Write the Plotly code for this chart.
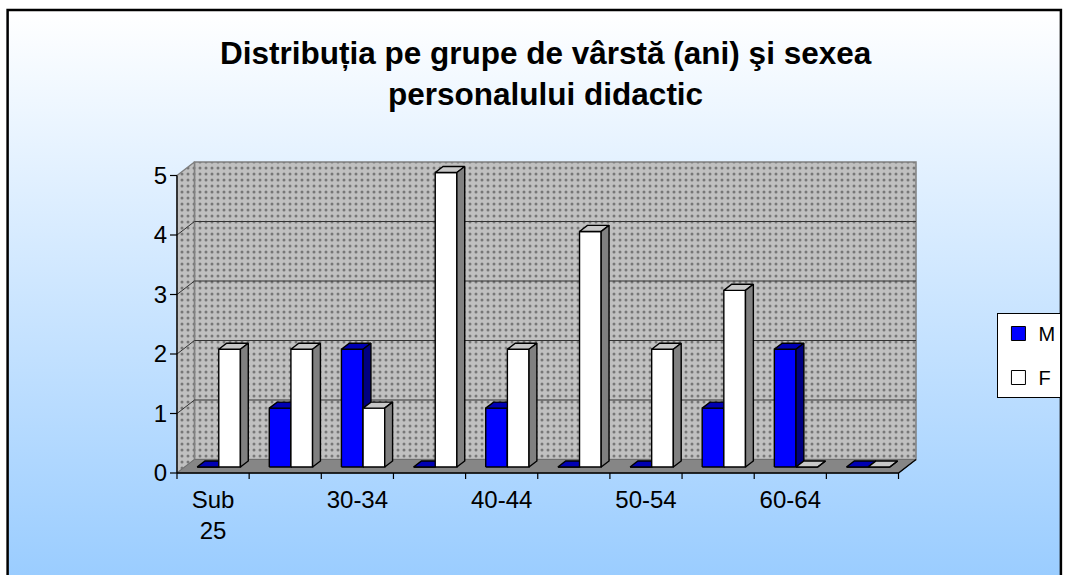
import base64
import plotly.graph_objects as go

# ---------------- data ----------------
categories = ["Sub 25", "25-29", "30-34", "35-39", "40-44",
              "45-49", "50-54", "55-59", "60-64", "65+"]
tick_label_index = [0, 2, 4, 6, 8]
tick_labels = ["Sub<br>25", "30-34", "40-44", "50-54", "60-64"]
male = [0, 1, 2, 0, 1, 0, 0, 1, 2, 0]
female = [2, 2, 1, 5, 2, 4, 2, 3, 0, 0]
y_ticks = [0, 1, 2, 3, 4, 5]
series_names = ["M", "F"]

# ---------------- geometry / styling ----------------
W, H = 1065, 575
PX_X = 72.2          # pixels per category
PX_Y = 59.5          # pixels per value unit
X_AX_PX = 177        # pixel column of x = -0.5
Y_AX_PX = 473        # pixel row of y = 0
DX = 17.5 / PX_X     # depth offset of the back wall (x units)
DY = 13.5 / PX_Y     # depth offset of the back wall (y units)
ncat = len(categories)
x_first = -0.5
x_last = ncat - 0.5
y_max = max(y_ticks)

xl = x_first - 10 / PX_X
xr = x_last + DX + 3 / PX_X
yb = -8 / PX_Y
yt = y_max + DY + 3 / PX_Y

L_PX = X_AX_PX - (x_first - xl) * PX_X
R_PX = L_PX + (xr - xl) * PX_X
B_PX = Y_AX_PX + (0 - yb) * PX_Y
T_PX = B_PX - (yt - yb) * PX_Y
PLOT_W = R_PX - L_PX
PLOT_H = B_PX - T_PX


def px_x(p):
    return (p - L_PX) / PLOT_W


def px_y(p):
    return (B_PX - p) / PLOT_H


# bar geometry
BW = 0.30              # bar width (category units)
BOUND = 0.079          # M/F boundary offset from category centre
F1, F2 = 0.44, 0.89    # bar front / back depth fractions
BASE = F1 * DY
BDX = (F2 - F1) * DX
BDY = (F2 - F1) * DY
S = 0.99

FONT = "Liberation Sans, Arial, sans-serif"
PATTERN = dict(shape=".", bgcolor="#c0c0c0", fgcolor="#2e2e2e",
               size=6, solidity=0.2)

fig = go.Figure()


def poly(xs, ys, fill, line_color, line_width=1.3, pattern=None):
    kw = dict(x=xs, y=ys, mode="lines", fill="toself", fillcolor=fill,
              line=dict(color=line_color, width=line_width),
              hoverinfo="skip", showlegend=False)
    if pattern is not None:
        kw["fillpattern"] = pattern
    fig.add_trace(go.Scatter(**kw))


def line(xs, ys, color, width=1.0):
    fig.add_trace(go.Scatter(x=xs, y=ys, mode="lines",
                             line=dict(color=color, width=width),
                             hoverinfo="skip", showlegend=False))


# back wall
poly([x_first + DX, x_last + DX, x_last + DX, x_first + DX, x_first + DX],
     [DY, DY, y_max + DY, y_max + DY, DY], "#c0c0c0", "#808080", 1.5, PATTERN)
# side wall
poly([x_first, x_first + DX, x_first + DX, x_first, x_first],
     [0, DY, y_max + DY, y_max, 0], "#c0c0c0", "#808080", 1.5, PATTERN)
# floor
poly([x_first, x_last, x_last + DX, x_first + DX, x_first],
     [0, 0, DY, DY, 0], "#868686", "#6e6e6e", 1.0)

# gridlines (back wall + side wall)
gx, gy = [], []
for k in y_ticks[1:-1]:
    gx += [x_first, x_first + DX, x_last + DX, None]
    gy += [k, k + DY, k + DY, None]
line(gx, gy, "#333333", 1.0)

# axis lines and tick marks
line([x_first, x_first], [0, y_max], "#000000", 1.3)
line([x_first, x_last, x_last + DX], [0, 0, DY], "#000000", 1.3)
tx, ty = [], []
for k in y_ticks:
    tx += [x_first - 7 / PX_X, x_first, None]
    ty += [k, k, None]
for i in range(ncat + 1):
    b = x_first + i
    tx += [b, b, None]
    ty += [0, -6 / PX_Y, None]
line(tx, ty, "#000000", 1.2)


def bar_faces(vals, left):
    fr_x, fr_y, tp_x, tp_y, sd_x, sd_y = [], [], [], [], [], []
    for k, v in enumerate(vals):
        x0 = k + BOUND + left
        x1 = x0 + BW
        y0 = BASE
        y1 = BASE + v * S
        fr_x += [x0, x1, x1, x0, x0, None]
        fr_y += [y0, y0, y1, y1, y0, None]
        tp_x += [x0, x1, x1 + BDX, x0 + BDX, x0, None]
        tp_y += [y1, y1, y1 + BDY, y1 + BDY, y1, None]
        sd_x += [x1, x1 + BDX, x1 + BDX, x1, x1, None]
        sd_y += [y0, y0 + BDY, y1 + BDY, y1, y0, None]
    return (fr_x, fr_y), (tp_x, tp_y), (sd_x, sd_y)


series = [
    (male, -BW, ("#0000ff", "#0000b4", "#000080")),
    (female, 0.0, ("#ffffff", "#c8c8c8", "#808080")),
]
for vals, left, cols in series:
    front, top, side = bar_faces(vals, left)
    poly(front[0], front[1], cols[0], "#000000", 1.4)
    poly(top[0], top[1], cols[1], "#000000", 1.4)
    poly(side[0], side[1], cols[2], "#000000", 1.4)

# legend entries
legend_cols = ["#0000ff", "#ffffff"]
for name, col in zip(series_names, legend_cols):
    fig.add_trace(go.Scatter(
        x=[None], y=[None], mode="markers", name=name, legendgroup=name,
        marker=dict(symbol="square", size=14, color=col,
                    line=dict(color="#000000", width=1))))

# background gradient
svg = ('<svg xmlns="http://www.w3.org/2000/svg" width="100" height="100" '
       'viewBox="0 0 100 100" preserveAspectRatio="none"><defs>'
       '<linearGradient id="g" x1="0" y1="0" x2="0" y2="1">'
       '<stop offset="0" stop-color="#ffffff"/>'
       '<stop offset="1" stop-color="#99ccff"/></linearGradient></defs>'
       '<rect width="100" height="100" fill="url(#g)"/></svg>')
src = "data:image/svg+xml;base64," + base64.b64encode(svg.encode()).decode()

fig.update_layout(
    width=W, height=H,
    margin=dict(l=L_PX, r=W - R_PX, t=T_PX, b=H - B_PX, pad=0, autoexpand=False),
    paper_bgcolor="#ffffff",
    plot_bgcolor="rgba(0,0,0,0)",
    font=dict(family=FONT, color="#000000"),
    xaxis=dict(range=[xl, xr], tickvals=tick_label_index, ticktext=tick_labels,
               ticks="", showgrid=False, zeroline=False, showline=False,
               tickfont=dict(size=24, family=FONT, color="#000000"),
               ticklabelstandoff=2, fixedrange=True),
    yaxis=dict(range=[yb, yt], tickvals=y_ticks, ticks="", showgrid=False,
               zeroline=False, showline=False,
               tickfont=dict(size=24, family=FONT, color="#000000"),
               ticklabelstandoff=-1, fixedrange=True),
    legend=dict(x=px_x(998), y=px_y(313), xanchor="left", yanchor="top",
                bgcolor="#ffffff", bordercolor="#000000", borderwidth=1,
                font=dict(size=20, family=FONT, color="#000000"),
                tracegroupgap=15),
    showlegend=True,
    images=[dict(source=src, xref="paper", yref="paper",
                 x=px_x(8), y=px_y(10), sizex=(1062 - 8) / PLOT_W,
                 sizey=(585 - 10) / PLOT_H, sizing="stretch",
                 xanchor="left", yanchor="top", layer="below")],
    shapes=[dict(type="rect", xref="paper", yref="paper",
                 x0=px_x(7.5), x1=px_x(1061.5), y0=px_y(590), y1=px_y(10),
                 line=dict(color="#000000", width=2.5), layer="above")],
    annotations=[dict(
        text="<b>Distribuția pe grupe de vârstă (ani) şi sexea<br>personalului didactic</b>",
        xref="paper", yref="paper", x=px_x(546), y=px_y(33),
        xanchor="center", yanchor="top", showarrow=False,
        font=dict(size=31.5, family=FONT, color="#000000"))],
)

fig.write_html(
    "out.html",
    config={"displayModeBar": False},
    post_script="document.body.style.margin='0';"
                "document.body.style.overflow='hidden';",
)
